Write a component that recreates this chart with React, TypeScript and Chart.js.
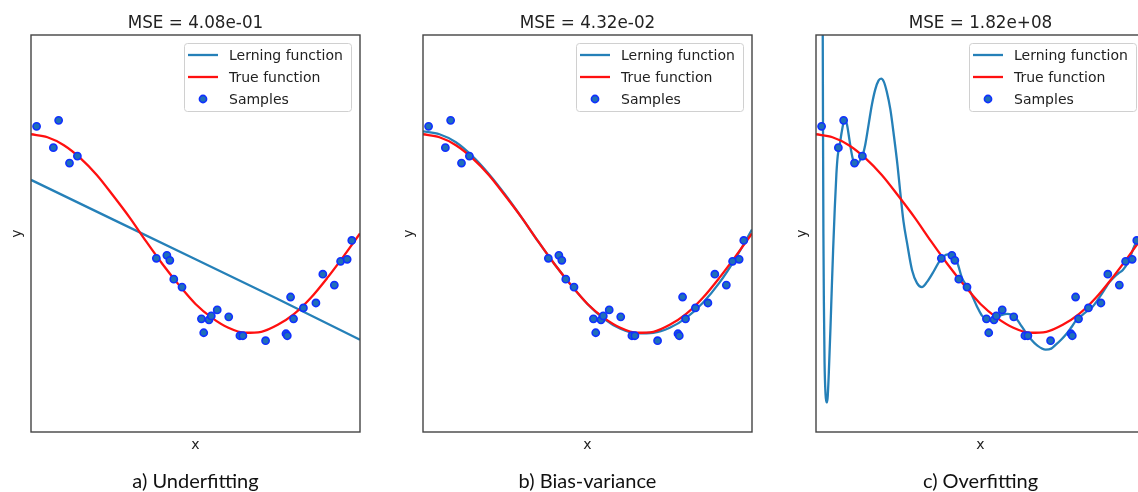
import React, { useEffect, useRef } from "react";
import { Chart, registerables } from "chart.js";

Chart.register(...registerables);

// ---------- data ----------
const TITLES = ["MSE = 4.08e-01", "MSE = 4.32e-02", "MSE = 1.82e+08"];
const CAPTIONS = ["a) Underfitting", "b) Bias-variance", "c) Overfitting"];
const LEGEND_LABELS = ["Lerning function", "True function", "Samples"];
const X_LABEL = "x";
const Y_LABEL = "y";

const sampleX = [
  0.017, 0.068, 0.084, 0.117, 0.141, 0.381, 0.413, 0.422, 0.434, 0.459,
  0.518, 0.525, 0.541, 0.548, 0.566, 0.601, 0.635, 0.644, 0.713, 0.775,
  0.779, 0.789, 0.798, 0.828, 0.866, 0.887, 0.922, 0.941, 0.961, 0.975,
];
const sampleY = [
  1.08, 0.865, 1.14, 0.71, 0.78, -0.25, -0.22, -0.27, -0.46, -0.54,
  -0.86, -1.0, -0.87, -0.83, -0.77, -0.84, -1.03, -1.03, -1.08, -1.01,
  -1.03, -0.64, -0.86, -0.75, -0.7, -0.41, -0.52, -0.28, -0.26, -0.07,
];

const curveX = [
  0, 0.05, 0.1, 0.15, 0.2, 0.25, 0.3, 0.35, 0.4, 0.45, 0.5,
  0.55, 0.6, 0.65, 0.7, 0.75, 0.8, 0.85, 0.9, 0.95, 1.0,
];
const trueY = [
  1.0, 0.97, 0.89, 0.76, 0.59, 0.38, 0.16, -0.08, -0.31, -0.52, -0.71,
  -0.85, -0.95, -1.0, -0.99, -0.92, -0.81, -0.65, -0.45, -0.23, 0.0,
];

const underfitX = [0, 0.25, 0.5, 0.75, 1.0];
const underfitY = [0.54, 0.14, -0.26, -0.66, -1.07];

const biasY = [
  1.03, 1.0, 0.92, 0.78, 0.6, 0.39, 0.16, -0.08, -0.31, -0.52, -0.71,
  -0.86, -0.96, -1.005, -1.0, -0.95, -0.85, -0.7, -0.5, -0.25, 0.04,
];

const overfitX = [
  0.0195, 0.0205, 0.0213, 0.0225, 0.024, 0.026, 0.029, 0.0315, 0.034, 0.036,
  0.039, 0.044, 0.048, 0.052, 0.057, 0.062, 0.066, 0.071, 0.078, 0.084,
  0.088, 0.094, 0.1, 0.106, 0.112, 0.119, 0.126, 0.134, 0.141, 0.15,
  0.16, 0.17, 0.18, 0.19, 0.198, 0.206, 0.215, 0.226, 0.237, 0.248,
  0.256, 0.266, 0.277, 0.292, 0.307, 0.322, 0.337, 0.358, 0.375, 0.388,
  0.4, 0.414, 0.429, 0.444, 0.465, 0.49, 0.505, 0.52, 0.535, 0.55,
  0.565, 0.581, 0.595, 0.607, 0.62, 0.632, 0.652, 0.673, 0.698, 0.715,
  0.729, 0.745, 0.759, 0.775, 0.79, 0.81, 0.825, 0.84, 0.858, 0.876,
  0.892, 0.906, 0.92, 0.932, 0.947, 0.957, 0.967, 0.982, 1.0,
];
const overfitY = [
  2.6, 2.0, 1.07, 0.0, -0.7, -1.3, -1.62, -1.7, -1.7, -1.62,
  -1.4, -0.95, -0.55, -0.17, 0.25, 0.6, 0.78, 0.87, 1.02, 1.12,
  1.14, 1.1, 0.98, 0.85, 0.75, 0.7, 0.7, 0.74, 0.78, 0.9,
  1.1, 1.3, 1.45, 1.54, 1.56, 1.53, 1.43, 1.25, 0.98, 0.68,
  0.42, 0.12, -0.1, -0.37, -0.5, -0.54, -0.49, -0.38, -0.28, -0.23,
  -0.21, -0.22, -0.29, -0.45, -0.56, -0.74, -0.83, -0.86, -0.86, -0.84,
  -0.82, -0.81, -0.82, -0.85, -0.91, -0.97, -1.06, -1.13, -1.17, -1.16,
  -1.12, -1.07, -1.02, -0.95, -0.88, -0.82, -0.78, -0.74, -0.66, -0.57,
  -0.49, -0.44, -0.4, -0.37, -0.3, -0.22, -0.13, -0.05, 0.1,
];

const LEARN_X = [underfitX, curveX, overfitX];
const LEARN_Y = [underfitY, biasY, overfitY];

// ---------- styles ----------
const BLUE = "#2580b8";
const DOT_FILL = "#1f6fb8";
const RED = "#ff1010";
const EDGE_BLUE = "#1030ff";
const PANEL_LEFTS = [31, 423, 816];
const AREA_W = 329;
const PAD_L = 31;
const PAD_T = 35;
const PAD_R = 12;
const PAD_B = 60;
const CANVAS_W = PAD_L + AREA_W + PAD_R;
const CANVAS_H = 492;

const zip = (xs: number[], ys: number[]) => xs.map((x, i) => ({ x, y: ys[i] }));

function makeDecor(title: string, caption: string) {
  return {
    id: "decor",
    afterDatasetsDraw(chart: any) {
      const { ctx, chartArea: a } = chart;
      ctx.save();
      // frame
      ctx.strokeStyle = "#444444";
      ctx.lineWidth = 1.4;
      ctx.strokeRect(a.left, a.top, a.right - a.left, a.bottom - a.top);
      const cx = (a.left + a.right) / 2;
      ctx.fillStyle = "#222222";
      // title
      ctx.font = '16.8px "DejaVu Sans"';
      ctx.textAlign = "center";
      ctx.textBaseline = "alphabetic";
      ctx.fillText(title, cx, 28);
      // x label
      ctx.font = '14px "DejaVu Sans"';
      ctx.fillText(X_LABEL, cx, 449);
      // y label
      ctx.save();
      ctx.translate(a.left - 14, (a.top + a.bottom) / 2);
      ctx.rotate(-Math.PI / 2);
      ctx.textBaseline = "middle";
      ctx.fillText(Y_LABEL, 0, 0);
      ctx.restore();
      // caption
      ctx.font = '20px "Lato"';
      ctx.fillStyle = "#111111";
      ctx.fillText(caption, cx, 488);
      // legend
      const bx = a.left + 153;
      const by = 43;
      const bw = 167;
      const bh = 68;
      ctx.beginPath();
      ctx.roundRect(bx + 0.5, by + 0.5, bw, bh, 3);
      ctx.fillStyle = "rgba(255,255,255,0.8)";
      ctx.fill();
      ctx.strokeStyle = "#d0d0d0";
      ctx.lineWidth = 1;
      ctx.stroke();
      const rows = [by + 12, by + 34, by + 56];
      ctx.lineWidth = 2.3;
      ctx.strokeStyle = BLUE;
      ctx.beginPath();
      ctx.moveTo(bx + 4, rows[0]);
      ctx.lineTo(bx + 34, rows[0]);
      ctx.stroke();
      ctx.strokeStyle = RED;
      ctx.beginPath();
      ctx.moveTo(bx + 4, rows[1]);
      ctx.lineTo(bx + 34, rows[1]);
      ctx.stroke();
      ctx.beginPath();
      ctx.arc(bx + 19, rows[2], 3.6, 0, Math.PI * 2);
      ctx.fillStyle = DOT_FILL;
      ctx.fill();
      ctx.lineWidth = 1.6;
      ctx.strokeStyle = EDGE_BLUE;
      ctx.stroke();
      ctx.font = '14px "DejaVu Sans"';
      ctx.fillStyle = "#222222";
      ctx.textAlign = "left";
      ctx.textBaseline = "middle";
      LEGEND_LABELS.forEach((t, i) => ctx.fillText(t, bx + 45, rows[i] + 1));
      ctx.restore();
    },
  };
}

function Panel({ index }: { index: number }) {
  const ref = useRef<HTMLCanvasElement | null>(null);
  useEffect(() => {
    if (!ref.current) return;
    const chart = new Chart(ref.current, {
      type: "scatter",
      data: {
        datasets: [
          {
            label: LEGEND_LABELS[2],
            data: zip(sampleX, sampleY),
            backgroundColor: DOT_FILL,
            borderColor: EDGE_BLUE,
            borderWidth: 1.6,
            pointRadius: 3.6,
            showLine: false,
          },
          {
            label: LEGEND_LABELS[1],
            data: zip(curveX, trueY),
            borderColor: RED,
            borderWidth: 2.3,
            pointRadius: 0,
            showLine: true,
            cubicInterpolationMode: "monotone",
          },
          {
            label: LEGEND_LABELS[0],
            data: zip(LEARN_X[index], LEARN_Y[index]),
            borderColor: BLUE,
            borderWidth: 2.3,
            pointRadius: 0,
            showLine: true,
            cubicInterpolationMode: index === 0 ? "default" : "monotone",
          },
        ],
      } as any,
      options: {
        animation: false,
        responsive: false,
        devicePixelRatio: 1,
        layout: {
          autoPadding: false,
          padding: { left: PAD_L, top: PAD_T, right: PAD_R, bottom: PAD_B },
        },
        scales: {
          x: { type: "linear", min: 0, max: 1, display: false },
          y: { type: "linear", min: -2, max: 2, display: false },
        },
        plugins: {
          legend: { display: false },
          tooltip: { enabled: false },
          title: { display: false },
        },
        events: [],
      } as any,
      plugins: [makeDecor(TITLES[index], CAPTIONS[index])],
    });
    return () => chart.destroy();
  }, [index]);
  return (
    <canvas
      ref={ref}
      width={CANVAS_W}
      height={CANVAS_H}
      style={{
        position: "absolute",
        left: PANEL_LEFTS[index] - PAD_L,
        top: 0,
        width: CANVAS_W,
        height: CANVAS_H,
      }}
    />
  );
}

export default function App() {
  return (
    <div
      style={{
        position: "fixed",
        left: 0,
        top: 0,
        width: 1138,
        height: 492,
        overflow: "hidden",
        background: "#ffffff",
      }}
    >
      {[0, 1, 2].map((i) => (
        <Panel key={i} index={i} />
      ))}
    </div>
  );
}
